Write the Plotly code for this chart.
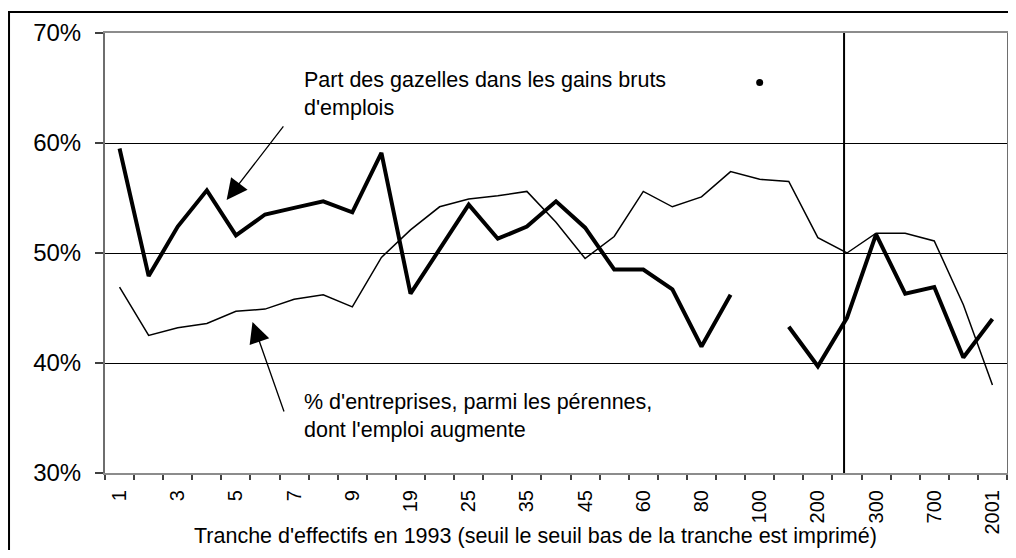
import plotly.graph_objects as go

# ---- data ----
cat_index = list(range(31))
tick_positions = list(range(0, 31, 2))
tick_labels = ["1", "3", "5", "7", "9", "19", "25", "35", "45", "60", "80",
               "100", "200", "300", "700", "2001"]
boundary_ticks = [i - 0.5 for i in range(32)]

part_gazelles = [59.5, 47.9, 52.4, 55.7, 51.6, 53.5, 54.1, 54.7, 53.7, 59.1,
                 46.3, 50.3, 54.4, 51.3, 52.4, 54.7, 52.3, 48.5, 48.5, 46.7,
                 41.5, 46.2, None, 43.3, 39.7, 44.1, 51.7, 46.3, 46.9, 40.5, 44.0]
pct_entreprises = [46.9, 42.5, 43.2, 43.6, 44.7, 44.9, 45.8, 46.2, 45.1, 49.6,
                   52.1, 54.2, 54.9, 55.2, 55.6, 52.8, 49.5, 51.5, 55.6, 54.2,
                   55.1, 57.4, 56.7, 56.5, 51.4, 50.0, 51.8, 51.8, 51.1, 45.3, 38.0]
isolated_x = [22]
isolated_y = [65.5]
separator_x = [24.9, 24.9]
separator_y = [30, 70]

y_ticks = [30, 40, 50, 60, 70]
y_labels = ["30%", "40%", "50%", "60%", "70%"]

FONT = "Liberation Sans, Arial, sans-serif"

fig = go.Figure()
fig.add_trace(go.Scatter(x=cat_index, y=pct_entreprises, mode="lines",
                         line=dict(color="black", width=1.5), showlegend=False))
fig.add_trace(go.Scatter(x=cat_index, y=part_gazelles, mode="lines",
                         line=dict(color="black", width=4), connectgaps=False,
                         showlegend=False))
fig.add_trace(go.Scatter(x=isolated_x, y=isolated_y, mode="markers",
                         marker=dict(color="black", size=7), showlegend=False))
fig.add_trace(go.Scatter(x=separator_x, y=separator_y, mode="lines",
                         line=dict(color="black", width=2), showlegend=False,
                         cliponaxis=False))

fig.update_layout(
    width=1000, height=542,
    margin=dict(l=97, r=1, t=25, b=77, autoexpand=False),
    paper_bgcolor="white", plot_bgcolor="white",
    font=dict(family=FONT, color="black"),
    xaxis=dict(range=[-0.5, 30.5], tickmode="array", tickvals=boundary_ticks,
               ticktext=[""] * len(boundary_ticks), ticks="outside", ticklen=5,
               tickcolor="#404040", tickwidth=1.5, automargin=False,
               showline=True, linecolor="#8c8c8c", linewidth=2, mirror=True,
               showgrid=False, zeroline=False),
    xaxis2=dict(range=[-0.5, 30.5], overlaying="x", anchor="y", side="bottom",
                tickmode="array", tickvals=tick_positions, ticktext=tick_labels,
                tickangle=-90, ticks="", showline=False, showgrid=False,
                zeroline=False, automargin=False,
                tickfont=dict(size=20, family=FONT, color="black"),
                ticklabelstandoff=12),
    yaxis=dict(range=[30, 70], tickmode="array", tickvals=y_ticks, ticktext=y_labels,
               ticks="outside", ticklen=8, tickcolor="#404040", tickwidth=1.5,
               showline=True, linecolor="#6e6e6e", linewidth=2, mirror=True,
               showgrid=True, gridcolor="black", gridwidth=1, zeroline=False,
               automargin=False,
               tickfont=dict(size=24, family=FONT, color="black"),
               ticklabelstandoff=9),
)

# invisible trace to activate xaxis2
fig.add_trace(go.Scatter(x=[None], y=[None], xaxis="x2", showlegend=False,
                         hoverinfo="skip"))

# outer frame
fig.add_shape(type="rect", xref="paper", yref="paper",
              x0=-0.1064, x1=1.05, y0=-0.3, y1=1.0477,
              line=dict(color="black", width=2), fillcolor="rgba(0,0,0,0)",
              layer="above")

# axis title
fig.add_annotation(text="Tranche d'effectifs en 1993 (seuil le seuil bas de la tranche est imprimé)",
                   xref="paper", yref="paper", x=0.4778, y=-0.1720,
                   xanchor="center", yanchor="bottom", showarrow=False,
                   borderpad=0,
                   font=dict(size=21.5, family=FONT, color="black"))

# text labels
fig.add_annotation(text="Part des gazelles dans les gains bruts<br>d'emplois",
                   xref="x", yref="y", x=6.28, y=64.5, xanchor="left",
                   yanchor="middle", align="left", showarrow=False,
                   font=dict(size=21.5, family=FONT, color="black"))
fig.add_annotation(text="% d'entreprises, parmi les pérennes,<br>dont l'emploi augmente",
                   xref="x", yref="y", x=6.28, y=35.18, xanchor="left",
                   yanchor="middle", align="left", showarrow=False,
                   font=dict(size=21.5, family=FONT, color="black"))

# arrows
fig.add_annotation(text="", xref="x", yref="y", axref="x", ayref="y",
                   x=3.68, y=54.82, ax=5.67, ay=61.64, showarrow=True,
                   arrowhead=2, arrowsize=3.2, arrowwidth=1.3, arrowcolor="black",
                   standoff=0)
fig.add_annotation(text="", xref="x", yref="y", axref="x", ayref="y",
                   x=4.57, y=43.73, ax=5.67, ay=35.45, showarrow=True,
                   arrowhead=2, arrowsize=3.2, arrowwidth=1.3, arrowcolor="black",
                   standoff=0)

fig.write_html("out.html")
